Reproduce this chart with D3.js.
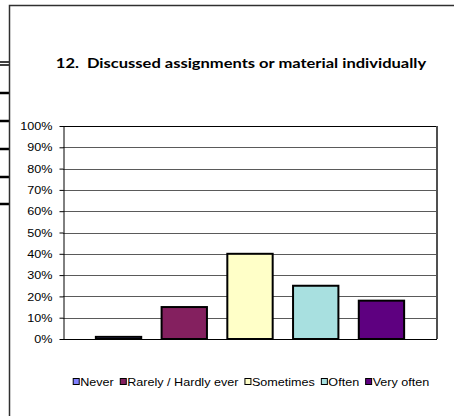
<!DOCTYPE html>
<html>
<head>
<meta charset="utf-8">
<script src="https://cdn.jsdelivr.net/npm/d3@7"></script>
<style>
  body { margin: 0; background: #fff; }
  svg { display: block; }
</style>
</head>
<body>
<svg id="chart"></svg>
<script>
// chart data
const categories = ["Never", "Rarely / Hardly ever", "Sometimes", "Often", "Very often"];
const values = [1, 15, 40, 25, 18];
const colors = ["#8080FF", "#84205F", "#FFFFC8", "#A8E0E0", "#5E0080"];
const yTicks = [0, 10, 20, 30, 40, 50, 60, 70, 80, 90, 100];
const title = "12.  Discussed assignments or material individually";

const width = 454, height = 416;
const margin = {top: 126, right: 17, bottom: 77, left: 63};
const stretch = 1.2; // text in the picture is a bit wide

const svg = d3.select("#chart")
    .attr("width", width)
    .attr("height", height);

svg.append("rect").attr("width", width).attr("height", height).attr("fill", "#fff");

// leftover rules from the page behind the chart
[62, 65].forEach(y => {
  svg.append("line").attr("x1", 0).attr("x2", 9).attr("y1", y).attr("y2", y)
    .attr("stroke", "#000").attr("stroke-width", 1.5);
});
[93, 121, 149, 177, 204].forEach(y => {
  svg.append("line").attr("x1", 0).attr("x2", 9).attr("y1", y).attr("y2", y)
    .attr("stroke", "#000").attr("stroke-width", 2.5);
});

// chart frame
svg.append("rect")
    .attr("x", 9.5).attr("y", 5.5)
    .attr("width", width).attr("height", height)
    .attr("fill", "none").attr("stroke", "#303030").attr("stroke-width", 1.5);

// title
svg.append("text")
    .attr("transform", `translate(241,63) scale(1.18,1)`)
    .attr("text-anchor", "middle")
    .attr("dominant-baseline", "central")
    .style("white-space", "pre")
    .attr("font-family", "Lato, 'Open Sans', sans-serif")
    .attr("font-weight", "bold")
    .attr("font-size", 14)
    .attr("fill", "#000")
    .text(title);

const innerW = width - margin.left - margin.right;
const innerH = height - margin.top - margin.bottom;

const x = d3.scaleBand()
    .domain(categories)
    .range([margin.left, margin.left + innerW])
    .paddingInner(0.31)
    .paddingOuter(0.5);

const y = d3.scaleLinear()
    .domain([0, 100])
    .range([margin.top + innerH, margin.top]);

// gridlines
svg.append("g")
  .selectAll("line")
  .data(yTicks.filter(d => d > 0))
  .join("line")
    .attr("x1", margin.left).attr("x2", margin.left + innerW)
    .attr("y1", d => Math.round(y(d)) + 0.5).attr("y2", d => Math.round(y(d)) + 0.5)
    .attr("stroke", d => d === 100 ? "#000" : "#5a5a5a")
    .attr("stroke-width", 1);

// right edge of plot area
svg.append("line")
    .attr("x1", margin.left + innerW).attr("x2", margin.left + innerW)
    .attr("y1", margin.top).attr("y2", margin.top + innerH)
    .attr("stroke", "#505050").attr("stroke-width", 2);

// y axis
const yAxis = svg.append("g")
    .attr("transform", `translate(${margin.left + 0.5},0)`)
    .call(d3.axisLeft(y).tickValues(yTicks).tickSize(4).tickSizeOuter(0).tickFormat(d => d + "%"));
yAxis.select(".domain").attr("stroke", "#000");
yAxis.selectAll(".tick line").attr("stroke", "#000");
yAxis.selectAll(".tick text")
    .attr("font-family", "'Liberation Sans', Arial, sans-serif")
    .attr("font-size", 10.5)
    .attr("fill", "#000")
    .attr("x", 0).attr("dy", null)
    .attr("dominant-baseline", "central")
    .attr("transform", `translate(-11,0) scale(${stretch},1)`);

// bars
svg.append("g")
  .selectAll("rect")
  .data(values)
  .join("rect")
    .attr("x", (d, i) => x(categories[i]))
    .attr("y", d => y(d))
    .attr("width", x.bandwidth())
    .attr("height", d => y(0) - y(d))
    .attr("fill", (d, i) => colors[i])
    .attr("stroke", "#000")
    .attr("stroke-width", 2);

// x baseline
svg.append("line")
    .attr("x1", margin.left).attr("x2", margin.left + innerW)
    .attr("y1", y(0) + 0.5).attr("y2", y(0) + 0.5)
    .attr("stroke", "#000");

// legend
const legend = svg.append("g");
const items = legend.selectAll("g")
  .data(categories)
  .join("g");
items.append("rect")
    .attr("x", 0.5).attr("y", -3.5)
    .attr("width", 6).attr("height", 6)
    .attr("fill", (d, i) => colors[i])
    .attr("stroke", "#000").attr("stroke-width", 1);
items.append("text")
    .attr("transform", `translate(7.5,0) scale(${stretch},1)`)
    .attr("dominant-baseline", "central")
    .attr("font-family", "'Liberation Sans', Arial, sans-serif")
    .attr("font-size", 10.5)
    .attr("fill", "#000")
    .text(d => d);

let cx = 0;
items.each(function() {
  const w = this.querySelector("text").getComputedTextLength() * stretch + 7.5;
  d3.select(this).attr("transform", `translate(${cx},0)`);
  cx += w + 6;
});
const total = cx - 6;
legend.attr("transform", `translate(${(margin.left + innerW / 2) - total / 2 + 1},382)`);
</script>
</body>
</html>
